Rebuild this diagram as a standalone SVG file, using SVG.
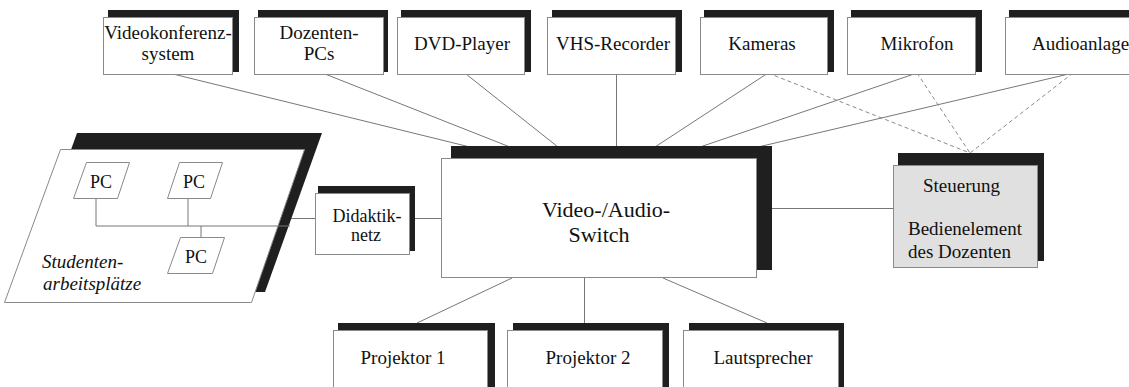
<svg xmlns="http://www.w3.org/2000/svg" width="1129" height="387" viewBox="0 0 1129 387">
<style>
.sh{fill:#1f1f1f}
.bx{fill:#fff;stroke:#8a8a8a;stroke-width:1}
.gy{fill:#e0e0e0;stroke:#8a8a8a;stroke-width:1}
.t{font-family:'Liberation Serif','Times New Roman','DejaVu Serif',Tinos,serif;font-size:19px;fill:#111;text-anchor:middle}
.ln{stroke:#777;stroke-width:1;fill:none}
.dl{stroke:#8a8a8a;stroke-width:1;fill:none;stroke-dasharray:4,3}
</style>
<rect width="1129" height="387" fill="#fff"/>
<g id="connectors">
<line class="ln" x1="173" y1="74" x2="470" y2="147"/>
<line class="ln" x1="325" y1="74" x2="510" y2="147"/>
<line class="ln" x1="466" y1="74" x2="558" y2="147"/>
<line class="ln" x1="616.5" y1="75" x2="616.5" y2="147"/>
<line class="ln" x1="768" y1="73" x2="655" y2="147"/>
<line class="ln" x1="917" y1="73" x2="700" y2="147"/>
<line class="ln" x1="1073" y1="73" x2="758" y2="147"/>
<line class="dl" x1="768" y1="73" x2="970" y2="153"/>
<line class="dl" x1="917" y1="73" x2="970" y2="153"/>
<line class="dl" x1="1073" y1="73" x2="970" y2="153"/>
<line class="ln" x1="772" y1="208.5" x2="893" y2="208.5"/>
<line class="ln" x1="409" y1="218.5" x2="441" y2="218.5"/>
<line class="ln" x1="290" y1="218.5" x2="315" y2="218.5"/>
<line class="ln" x1="512" y1="278" x2="417" y2="323"/>
<line class="ln" x1="584.5" y1="278" x2="584.5" y2="323"/>
<line class="ln" x1="663" y1="278" x2="767" y2="323"/>
</g>
<g id="node-videokonferenz">
<rect class="sh" x="108" y="10" width="131" height="62"/>
<rect class="bx" x="103.5" y="17.5" width="129" height="57"/>
<text class="t" x="168" y="39">Videokonferenz-</text>
<text class="t" x="168" y="60">system</text>
</g>
<g id="node-dozenten">
<rect class="sh" x="258" y="10" width="130" height="62"/>
<rect class="bx" x="254.5" y="17.5" width="129" height="57"/>
<text class="t" x="319" y="39">Dozenten-</text>
<text class="t" x="319" y="60">PCs</text>
</g>
<g id="node-dvd">
<rect class="sh" x="401" y="10" width="130" height="62"/>
<rect class="bx" x="397.5" y="17.5" width="127" height="57"/>
<text class="t" x="462" y="50">DVD-Player</text>
</g>
<g id="node-vhs">
<rect class="sh" x="552" y="10" width="130" height="62"/>
<rect class="bx" x="547.5" y="17.5" width="128" height="57"/>
<text class="t" x="613" y="50">VHS-Recorder</text>
</g>
<g id="node-kameras">
<rect class="sh" x="704" y="10" width="130" height="62"/>
<rect class="bx" x="700.5" y="17.5" width="127" height="57"/>
<text class="t" x="762" y="50">Kameras</text>
</g>
<g id="node-mikrofon">
<rect class="sh" x="851" y="10" width="131" height="62"/>
<rect class="bx" x="847.5" y="17.5" width="128" height="57"/>
<text class="t" x="917" y="50">Mikrofon</text>
</g>
<g id="node-audioanlage">
<rect class="sh" x="1009" y="10" width="131" height="62"/>
<rect class="bx" x="1005.5" y="17.5" width="129" height="57"/>
<text class="t" x="1032" y="50" style="text-anchor:start">Audioanlage</text>
</g>
<g id="node-switch">
<rect class="sh" x="451" y="146" width="321" height="124"/>
<rect class="bx" x="441.5" y="158.5" width="315" height="119"/>
<text class="t" x="606" y="217" style="font-size:22px">Video-/Audio-</text>
<text class="t" x="599" y="242" style="font-size:22px">Switch</text>
</g>
<g id="node-steuerung">
<rect class="sh" x="898" y="153" width="146" height="108"/>
<rect class="gy" x="893.5" y="165.5" width="144" height="102"/>
<text class="t" x="923" y="192" style="text-anchor:start">Steuerung</text>
<text class="t" x="908" y="235" style="text-anchor:start">Bedienelement</text>
<text class="t" x="908" y="258" style="text-anchor:start">des Dozenten</text>
</g>
<g id="node-didaktiknetz">
<rect class="sh" x="318" y="186" width="97" height="65"/>
<rect class="bx" x="315.5" y="193.5" width="94" height="61"/>
<text class="t" x="367" y="222" style="font-size:18px">Didaktik-</text>
<text class="t" x="366" y="241" style="font-size:18px">netz</text>
</g>
<g id="node-studenten">
<polygon class="sh" points="77,133 322,133 265,292 20,292"/>
<polygon class="bx" points="60.5,149.5 304.5,149.5 251.5,302.5 4.5,302.5"/>
<polyline class="ln" points="96,198 96,226 290,226"/>
<line class="ln" x1="188" y1="198" x2="188" y2="226"/>
<line class="ln" x1="201" y1="226" x2="201" y2="237"/>
<polygon class="bx" points="86.5,162.5 129.5,162.5 117.5,198.5 73.5,198.5"/>
<text class="t" x="101" y="188" style="font-size:18px">PC</text>
<polygon class="bx" points="179.5,162.5 222.5,162.5 210.5,198.5 167.5,198.5"/>
<text class="t" x="194" y="188" style="font-size:18px">PC</text>
<polygon class="bx" points="180.5,237.5 224.5,237.5 212.5,273.5 167.5,273.5"/>
<text class="t" x="196" y="263" style="font-size:18px">PC</text>
<text class="t" x="42" y="268" style="text-anchor:start;font-style:italic">Studenten-</text>
<text class="t" x="43" y="290" style="text-anchor:start;font-style:italic">arbeitsplätze</text>
</g>
<g id="node-projektor1">
<rect class="sh" x="338" y="323" width="157" height="70"/>
<rect class="bx" x="333.5" y="330.5" width="154" height="70"/>
<text class="t" x="403" y="364">Projektor 1</text>
</g>
<g id="node-projektor2">
<rect class="sh" x="513" y="323" width="156" height="70"/>
<rect class="bx" x="507.5" y="330.5" width="155" height="70"/>
<text class="t" x="588" y="364">Projektor 2</text>
</g>
<g id="node-lautsprecher">
<rect class="sh" x="689" y="323" width="155" height="70"/>
<rect class="bx" x="683.5" y="330.5" width="155" height="70"/>
<text class="t" x="763" y="364">Lautsprecher</text>
</g>
</svg>
